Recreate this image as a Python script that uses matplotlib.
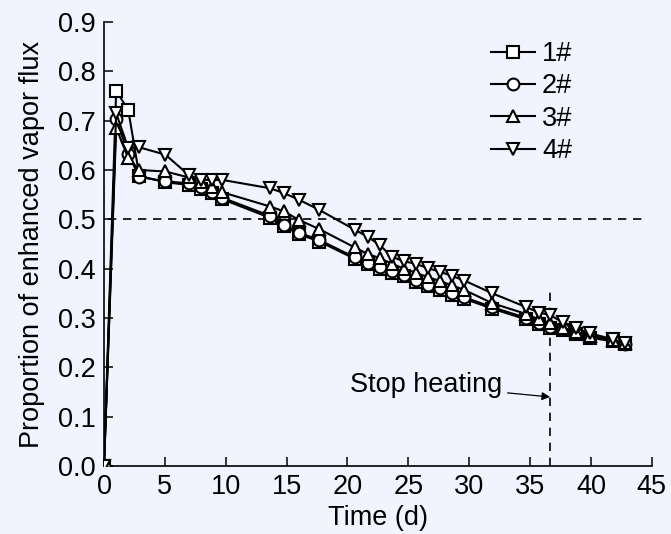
import matplotlib.pyplot as plt

plt.rcParams['font.family'] = ['Liberation Sans', 'DejaVu Sans']

# sampling times (d)
days = [0, 1, 2, 2.9, 5.05, 6.95, 8.0, 8.85, 9.7, 13.65, 14.8, 16.0, 17.7,
        20.6, 21.65, 22.7, 23.65, 24.65, 25.6, 26.6, 27.6, 28.6, 29.6,
        31.9, 34.7, 35.75, 36.65, 37.7, 38.8, 39.9, 41.8, 42.8]

s1 = [0, 0.761, 0.721, 0.588, 0.575, 0.570, 0.562, 0.553, 0.541, 0.503, 0.486,
      0.470, 0.455, 0.420, 0.409, 0.400, 0.392, 0.385, 0.374, 0.364, 0.357,
      0.347, 0.339, 0.319, 0.297, 0.287, 0.279, 0.275, 0.267, 0.260, 0.253, 0.247]
s2 = [0, 0.703, 0.632, 0.586, 0.577, 0.573, 0.565, 0.556, 0.544, 0.507, 0.489,
      0.473, 0.458, 0.423, 0.412, 0.403, 0.395, 0.388, 0.377, 0.367, 0.360,
      0.350, 0.342, 0.322, 0.300, 0.289, 0.281, 0.277, 0.269, 0.262, 0.255, 0.248]
s3 = [0, 0.685, 0.624, 0.600, 0.597, 0.585, 0.575, 0.565, 0.555, 0.526, 0.516,
      0.499, 0.480, 0.443, 0.430, 0.421, 0.410, 0.400, 0.392, 0.383, 0.375,
      0.366, 0.357, 0.330, 0.308, 0.297, 0.290, 0.280, 0.272, 0.264, 0.256, 0.250]
s4 = [0, 0.715, 0.644, 0.646, 0.631, 0.590, 0.580, 0.580, 0.580, 0.563, 0.553,
      0.540, 0.519, 0.479, 0.465, 0.447, 0.424, 0.415, 0.410, 0.401, 0.394,
      0.385, 0.376, 0.350, 0.322, 0.311, 0.306, 0.291, 0.279, 0.269, 0.257, 0.249]

series = [s1, s2, s3, s4]
labels = ['1#', '2#', '3#', '4#']
markers = ['s', 'o', '^', 'v']

threshold = 0.5
stop_day = 36.65

fs = 19.5
bg = '#F1F4FF'
fig = plt.figure(figsize=(6.71, 5.34), dpi=100, facecolor=bg)
ax = fig.add_axes([0.155, 0.1273, 0.8163, 0.8315], facecolor=bg)

for i, (vals, lab, mk) in enumerate(zip(series, labels, markers)):
    ax.plot(days, vals, marker=mk, color='black', lw=1.5, ms=8.5,
            mfc='white', mec='black', mew=1.5, label=lab, zorder=3 + i)

ax.hlines(threshold, 0.3, 44.6, colors='black', lw=1.2,
          linestyles=(0, (5, 4)), zorder=2)
ax.vlines(stop_day, 0, 0.36, colors='black', lw=1.2,
          linestyles=(0, (5, 4)), zorder=2)

ax.annotate('Stop heating', xy=(stop_day, 0.14), xytext=(32.7, 0.164),
            ha='right', va='center', fontsize=fs,
            arrowprops=dict(arrowstyle='-|>', color='black', lw=0.9,
                            mutation_scale=12, shrinkA=2, shrinkB=0))

ax.set_xlim(0, 45)
ax.set_ylim(0, 0.9)
ax.set_xticks(range(0, 46, 5))
ax.set_yticks([i / 10 for i in range(10)])
ax.set_yticklabels(['%.1f' % (i / 10) for i in range(10)])

for side in ['top', 'right']:
    ax.spines[side].set_visible(False)
for side in ['left', 'bottom']:
    ax.spines[side].set_linewidth(1.2)

ax.tick_params(direction='in', length=6.5, width=1.1, labelsize=fs, pad=6)
ax.set_xlabel('Time (d)', fontsize=fs, labelpad=3)
ax.set_ylabel('Proportion of enhanced vapor flux', fontsize=fs, labelpad=9)

ax.legend(loc='upper left', bbox_to_anchor=(0.707, 0.957), frameon=False,
          fontsize=fs, handlelength=1.62, handletextpad=0.25,
          labelspacing=0.235, borderpad=0, borderaxespad=0)

fig.savefig('out.png', dpi=100, facecolor=bg)
